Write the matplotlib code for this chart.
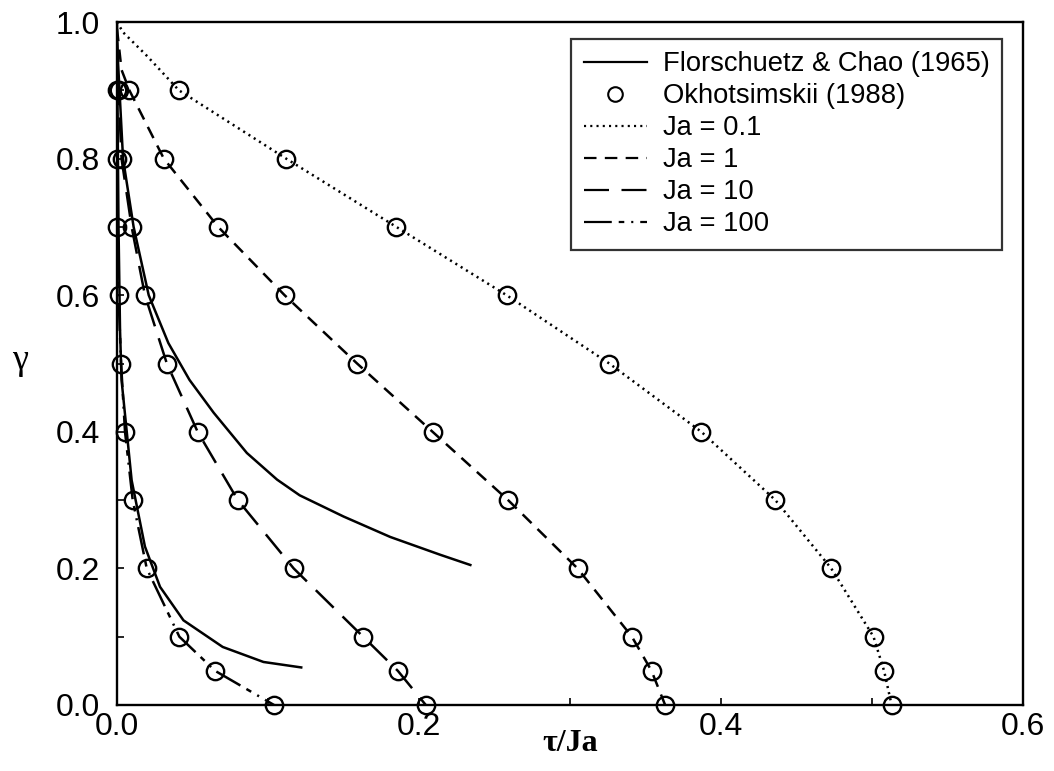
import numpy as np
import matplotlib
matplotlib.use("Agg")
import matplotlib.pyplot as plt
from matplotlib.lines import Line2D
from matplotlib.legend_handler import HandlerLine2D

plt.rcParams['font.family'] = ['Liberation Sans', 'DejaVu Sans']
plt.rcParams['lines.scale_dashes'] = False

# Okhotsimskii (1988) points: gamma levels and tau/Ja for each Ja
okh_y = [0.9, 0.8, 0.7, 0.6, 0.5, 0.4, 0.3, 0.2, 0.1, 0.05, 0.0]
okh_ja01 = [0.041, 0.112, 0.185, 0.258, 0.326, 0.387, 0.436, 0.473, 0.501, 0.508, 0.513]
okh_ja1 = [0.0082, 0.031, 0.067, 0.111, 0.159, 0.209, 0.259, 0.305, 0.341, 0.354, 0.363]
okh_ja10 = [0.001, 0.003, 0.0097, 0.0185, 0.033, 0.0534, 0.080, 0.117, 0.163, 0.186, 0.2045]
okh_ja100 = [0.0, 0.0, 0.0, 0.001, 0.0027, 0.0053, 0.0104, 0.0197, 0.0413, 0.065, 0.104]

# present model curves
ja01_x = [0.0, 0.004, 0.02] + okh_ja01
ja01_y = [1.0, 0.985, 0.95] + okh_y
ja1_x = [0.0, 0.003] + okh_ja1
ja1_y = [0.99, 0.93] + okh_y
ja10_x = [0.0] + okh_ja10
ja10_y = [0.97] + okh_y
ja100_x = [0.0] + okh_ja100
ja100_y = [1.0] + okh_y

# Florschuetz & Chao (1965)
fc1_x = [0.0, 0.004, 0.011, 0.021, 0.034, 0.048, 0.064, 0.086, 0.106, 0.121, 0.150, 0.181, 0.214, 0.234]
fc1_y = [0.97, 0.8, 0.7, 0.6, 0.53, 0.476, 0.428, 0.369, 0.330, 0.307, 0.276, 0.246, 0.220, 0.205]
fc2_x = [0.0, 0.001, 0.002, 0.003, 0.0097, 0.0185, 0.0285, 0.044, 0.070, 0.097, 0.122]
fc2_y = [0.97, 0.7, 0.55, 0.476, 0.329, 0.232, 0.173, 0.124, 0.085, 0.063, 0.055]

ls01 = (0, (1.5, 3))
ls1 = (0, (9, 6))
ls10 = (0, (18, 9))
ls100 = (0, (20, 5, 4, 5, 1.5, 5))
lw = 1.8

fig = plt.figure(figsize=(10.54, 7.71), dpi=100)
ax = fig.add_axes([117/1054, 66/771, 906/1054, 683/771])

ax.plot(fc1_x, fc1_y, color='black', lw=lw)
ax.plot(fc2_x, fc2_y, color='black', lw=lw)
ax.plot(ja01_x, ja01_y, color='black', lw=lw, linestyle=ls01)
ax.plot(ja1_x, ja1_y, color='black', lw=lw, linestyle=ls1)
ax.plot(ja10_x, ja10_y, color='black', lw=lw, linestyle=ls10)
ax.plot(ja100_x, ja100_y, color='black', lw=lw, linestyle=ls100)
for xs in [okh_ja01, okh_ja1, okh_ja10, okh_ja100]:
    ax.plot(xs, okh_y, linestyle='none', marker='o', markersize=12.5,
            markerfacecolor='none', markeredgecolor='black', markeredgewidth=1.7,
            clip_on=False)

ax.set_xlim(0, 0.6)
ax.set_ylim(0, 1.0)
ax.set_xticks([0.0, 0.2, 0.4, 0.6])
ax.set_xticklabels(['0.0', '0.2', '0.4', '0.6'])
ax.set_yticks([0.0, 0.2, 0.4, 0.6, 0.8, 1.0])
ax.set_yticklabels(['0.0', '0.2', '0.4', '0.6', '0.8', '1.0'])
ax.set_xticks([0.1, 0.3, 0.5], minor=True)
ax.set_yticks([0.1, 0.3, 0.5, 0.7, 0.9], minor=True)
ax.tick_params(which='both', direction='in', length=5, width=1.2, labelsize=23)
ax.tick_params(axis='x', pad=5)
ax.tick_params(axis='y', pad=12)
for s in ax.spines.values():
    s.set_linewidth(1.7)

ax.set_xlabel('τ/Ja', family='Liberation Serif', fontweight='bold', fontsize=23,
              va='center')
ax.xaxis.set_label_coords(0.5, -0.057)
ax.set_ylabel('γ', family='Liberation Serif', fontsize=26, rotation=0,
              va='center', ha='center')
ax.yaxis.set_label_coords(-0.107, 0.505)


class RightMarker(HandlerLine2D):
    def get_xdata(self, legend, xdescent, ydescent, width, height, fontsize):
        return [-xdescent, -xdescent + width], [-xdescent + width - 0.25 * fontsize]


h_fc = Line2D([], [], color='black', lw=1.6)
h_okh = Line2D([], [], linestyle='none', marker='o', markersize=10.5,
               markerfacecolor='none', markeredgecolor='black', markeredgewidth=1.5)
h01 = Line2D([], [], color='black', lw=1.6, linestyle=ls01)
h1 = Line2D([], [], color='black', lw=1.6, linestyle=ls1)
h10 = Line2D([], [], color='black', lw=1.6, linestyle=ls10)
h100 = Line2D([], [], color='black', lw=1.6, linestyle=ls100)
leg = ax.legend([h_fc, h_okh, h01, h1, h10, h100],
                ['Florschuetz & Chao (1965)', 'Okhotsimskii (1988)', 'Ja = 0.1',
                 'Ja = 1', 'Ja = 10', 'Ja = 100'],
                loc='upper right', bbox_to_anchor=(0.977, 0.975), borderaxespad=0,
                fontsize=19.7, frameon=True, fancybox=False, handlelength=2.3,
                handletextpad=0.6, borderpad=0.45, labelspacing=0.22,
                handler_map={h_okh: RightMarker()})
leg.get_frame().set_edgecolor('black')
leg.get_frame().set_linewidth(1.6)

fig.savefig('out.png', dpi=100)
